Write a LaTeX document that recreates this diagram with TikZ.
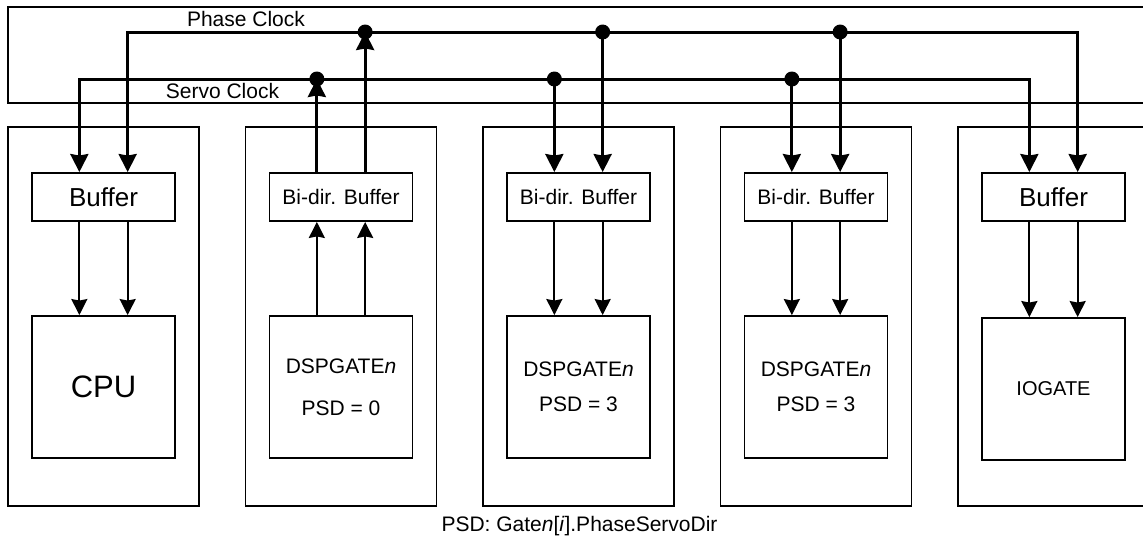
\documentclass[tikz,border=0pt]{standalone}
\usepackage{fontspec}
\setmainfont{Liberation Sans}
\usetikzlibrary{arrows.meta,calc}

\begin{document}
\begin{tikzpicture}[x=1pt,y=-1pt,
  frame/.style={draw,line width=1.9pt,inner sep=0pt},
  box/.style={draw,line width=1.9pt,minimum width=143pt,inner sep=0pt,align=center},
  clk/.style={line width=3pt},
  bigtip/.style={Stealth[length=18pt,width=18pt,inset=1.5pt]},
  clkarrow/.style={line width=3pt,-{Stealth[length=18pt,width=18pt,inset=1.5pt]}},
  sigarrow/.style={line width=1.9pt,-{Stealth[length=16pt,width=16pt,inset=1.5pt]}},
  jdot/.style={circle,fill,inner sep=0pt,minimum size=15pt},
  lbl/.style={font=\fontsize{21}{25}\selectfont},
]
\useasboundingbox (0,0) rectangle (1143,536);
\clip (0,0) rectangle (1143,536);

% clock bus enclosure, open to the right
\draw[line width=1.9pt] (1160,7) -- (8,7) -- (8,103) -- (1160,103);
\node[lbl,anchor=base] (phlbl) at (246,26) {Phase Clock};
\node[lbl,anchor=base] (svlbl) at (222.5,98) {Servo Clock};
\coordinate (pY) at (0,32);
\coordinate (sY) at (0,79);

% module frames
\foreach \i/\cx in {1/103.5,2/341,3/578.5,4/816,5/1053.5}
  \node[frame,minimum width=191pt,minimum height=379pt] (m\i) at (\cx,316.5) {};

% buffers
\node[box,minimum height=48pt,font=\fontsize{26}{30}\selectfont] (buf1) at (103.5,197) {Buffer};
\node[box,minimum height=48pt,lbl] (buf2) at (341,197) {Bi-dir. Buffer};
\node[box,minimum height=48pt,lbl] (buf3) at (578.5,197) {Bi-dir. Buffer};
\node[box,minimum height=48pt,lbl] (buf4) at (816,197) {Bi-dir. Buffer};
\node[box,minimum height=48pt,font=\fontsize{26}{30}\selectfont] (buf5) at (1053.5,197) {Buffer};

% processing units
\node[box,minimum height=142pt,font=\fontsize{31}{36}\selectfont] (dev1) at (103.5,387) {CPU};
\node[box,minimum height=142pt,lbl] (dev2) at (341,387) {DSPGATE\textit{n}\\[17pt]PSD = 0};
\node[box,minimum height=142pt,lbl] (dev3) at (578.5,387) {DSPGATE\textit{n}\\[10pt]PSD = 3};
\node[box,minimum height=142pt,lbl] (dev4) at (816,387) {DSPGATE\textit{n}\\[10pt]PSD = 3};
\node[box,minimum height=142pt,font=\fontsize{20}{24}\selectfont] (dev5) at (1053.5,389) {IOGATE};

% connection points at one and two thirds of each buffer and unit
\foreach \i in {1,...,5}{
  \coordinate (bL\i) at ($(buf\i.north west)!1/3!(buf\i.north east)$);
  \coordinate (bR\i) at ($(buf\i.north west)!2/3!(buf\i.north east)$);
  \coordinate (oL\i) at ($(buf\i.south west)!1/3!(buf\i.south east)$);
  \coordinate (oR\i) at ($(buf\i.south west)!2/3!(buf\i.south east)$);
  \coordinate (dL\i) at ($(dev\i.north west)!1/3!(dev\i.north east)$);
  \coordinate (dR\i) at ($(dev\i.north west)!2/3!(dev\i.north east)$);
}

% buffer <-> unit signals
\foreach \i in {1,3,4,5}{
  \draw[sigarrow] (oL\i) -- (dL\i);
  \draw[sigarrow] (oR\i) -- (dR\i);
}
\draw[sigarrow] (dL2) -- (oL2);
\draw[sigarrow] (dR2) -- (oR2);

% servo and phase clock lines
\draw[clk,{Stealth[length=18pt,width=18pt,inset=1.5pt]}-{Stealth[length=18pt,width=18pt,inset=1.5pt]}]
  (bL1) -- (bL1 |- sY) -- (bL5 |- sY) -- (bL5);
\draw[clk,{Stealth[length=18pt,width=18pt,inset=1.5pt]}-{Stealth[length=18pt,width=18pt,inset=1.5pt]}]
  (bR1) -- (bR1 |- pY) -- (bR5 |- pY) -- (bR5);

% master drives the clocks upward
\draw[clkarrow] (bL2) -- (bL2 |- sY);
\draw[clkarrow] (bR2) -- (bR2 |- pY);
\foreach \i in {3,4}{
  \draw[clkarrow] (bL\i |- sY) -- (bL\i);
  \draw[clkarrow] (bR\i |- pY) -- (bR\i);
}

% junctions
\foreach \i in {2,3,4}{
  \node[jdot] (js\i) at (bL\i |- sY) {};
  \node[jdot] (jp\i) at (bR\i |- pY) {};
}

\node[lbl,anchor=base] (note) at (579.5,531) {PSD: Gate\textit{n}[\textit{i}].PhaseServoDir};
\end{tikzpicture}
\end{document}
